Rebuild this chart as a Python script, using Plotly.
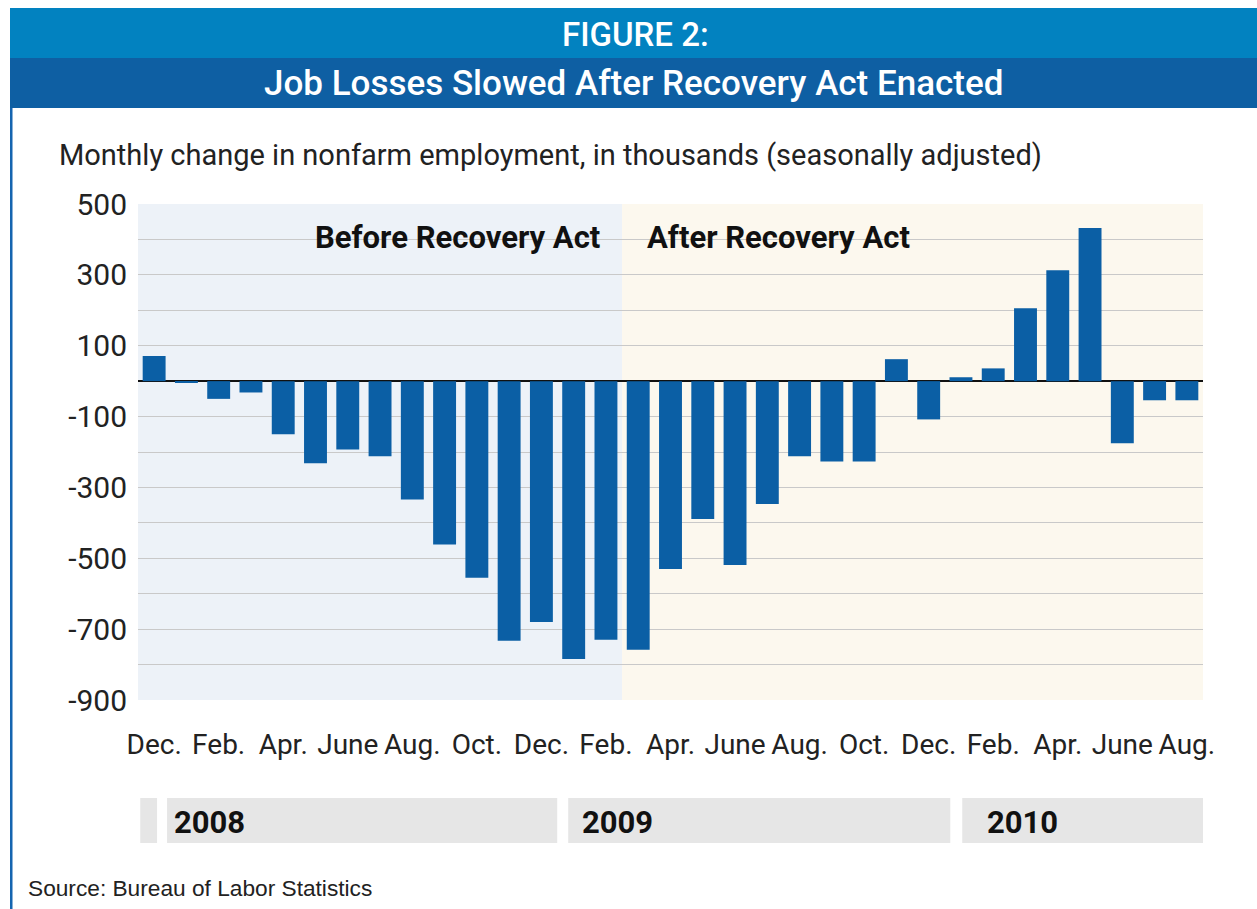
import plotly.graph_objects as go

# Monthly change in nonfarm payrolls (thousands), Dec 2007 - Aug 2010
months = ["Dec 2007", "Jan 2008", "Feb 2008", "Mar 2008", "Apr 2008", "May 2008",
          "Jun 2008", "Jul 2008", "Aug 2008", "Sep 2008", "Oct 2008", "Nov 2008",
          "Dec 2008", "Jan 2009", "Feb 2009", "Mar 2009", "Apr 2009", "May 2009",
          "Jun 2009", "Jul 2009", "Aug 2009", "Sep 2009", "Oct 2009", "Nov 2009",
          "Dec 2009", "Jan 2010", "Feb 2010", "Mar 2010", "Apr 2010", "May 2010",
          "Jun 2010", "Jul 2010", "Aug 2010"]
job_change = [71, -5, -50, -32, -150, -232, -193, -212, -334, -461, -555, -733,
              -680, -784, -730, -758, -530, -389, -519, -347, -212, -227, -227, 62,
              -108, 11, 36, 206, 313, 432, -175, -54, -54]
tick_labels = ["Dec.", "Feb.", "Apr.", "June", "Aug.", "Oct.", "Dec.", "Feb.", "Apr.",
               "June", "Aug.", "Oct.", "Dec.", "Feb.", "Apr.", "June", "Aug."]
y_labels = ["-900", "-700", "-500", "-300", "-100", "100", "300", "500"]
years = ["2008", "2009", "2010"]
act_month = "Mar 2009"

W, H = 1257, 909
L, R, T, B = 138, 1203, 204, 700

def xp(px):
    return (px - L) / (R - L)

def yp(py):
    return (B - py) / (B - T)

FONT = "Roboto, Arial, sans-serif"
BAR = "#0b5fa5"
split = months.index(act_month) - 0.5
n = len(months)

fig = go.Figure(go.Bar(
    x=list(range(n)), y=job_change, marker=dict(color=BAR, line=dict(width=0)),
    hoverinfo="skip", showlegend=False,
))

shapes = [
    # shaded periods
    dict(type="rect", xref="x", yref="y", x0=-0.5, x1=split, y0=-900, y1=500,
         fillcolor="#edf2f8", line=dict(width=0), layer="below"),
    dict(type="rect", xref="x", yref="y", x0=split, x1=n - 0.5, y0=-900, y1=500,
         fillcolor="#fcf8ee", line=dict(width=0), layer="below"),
    # header bands
    dict(type="rect", xref="paper", yref="paper", x0=xp(10), x1=xp(1262), y0=yp(58), y1=yp(8),
         fillcolor="#0282c0", line=dict(width=0)),
    dict(type="rect", xref="paper", yref="paper", x0=xp(10), x1=xp(1262), y0=yp(108), y1=yp(58),
         fillcolor="#0e5fa3", line=dict(width=0)),
    # left frame line
    dict(type="rect", xref="paper", yref="paper", x0=xp(10), x1=xp(12.5), y0=yp(912), y1=yp(108),
         fillcolor="#1565b0", line=dict(width=0)),
]

# year bands under the month axis
year_bands = [(-0.43, 0.09), (0.40, 12.49), (12.83, 24.67), (25.04, 32.57)]
for x0, x1 in year_bands:
    shapes.append(dict(type="rect", xref="x", yref="paper", x0=x0, x1=x1,
                       y0=yp(843), y1=yp(798), fillcolor="#e6e6e6", line=dict(width=0)))

annotations = [
    dict(text="FIGURE 2:", x=xp(635), y=yp(35), xref="paper", yref="paper",
         showarrow=False, xanchor="center", yanchor="middle",
         font=dict(family=FONT, size=33, color="white", weight=500)),
    dict(text="Job Losses Slowed After Recovery Act Enacted", x=xp(633), y=yp(83),
         xref="paper", yref="paper", showarrow=False, xanchor="center", yanchor="middle",
         font=dict(family=FONT, size=35, color="white", weight=500)),
    dict(text="Monthly change in nonfarm employment, in thousands (seasonally adjusted)",
         x=xp(57), y=yp(155), xref="paper", yref="paper", showarrow=False,
         xanchor="left", yanchor="middle", font=dict(family=FONT, size=29, color="#222222")),
    dict(text="<b>Before Recovery Act</b>", x=xp(313), y=yp(237), xref="paper", yref="paper",
         showarrow=False, xanchor="left", yanchor="middle",
         font=dict(family=FONT, size=31, color="#111111")),
    dict(text="<b>After Recovery Act</b>", x=xp(645), y=yp(237), xref="paper", yref="paper",
         showarrow=False, xanchor="left", yanchor="middle",
         font=dict(family=FONT, size=31, color="#111111")),
    dict(text="Source: Bureau of Labor Statistics", x=xp(26), y=yp(888), xref="paper",
         yref="paper", showarrow=False, xanchor="left", yanchor="middle",
         font=dict(family="Liberation Sans, Arial, sans-serif", size=22.7, color="#222222")),
]
year_x = [172, 580, 985]
for label, px in zip(years, year_x):
    annotations.append(dict(text="<b>" + label + "</b>", x=xp(px), y=yp(822), xref="paper",
                            yref="paper", showarrow=False, xanchor="left", yanchor="middle",
                            font=dict(family=FONT, size=31, color="#111111")))

fig.update_layout(
    width=W, height=H,
    margin=dict(l=L, r=W - R, t=T, b=H - B),
    paper_bgcolor="white", plot_bgcolor="rgba(0,0,0,0)",
    bargap=0.29,
    shapes=shapes, annotations=annotations,
    xaxis=dict(range=[-0.5, n - 0.5], tickmode="array",
               tickvals=list(range(0, n, 2)), ticktext=tick_labels, tickangle=0,
               showgrid=False, zeroline=False, showline=False, ticks="",
               tickfont=dict(family=FONT, size=28, color="#222222"),
               ticklabelstandoff=25, fixedrange=True),
    yaxis=dict(range=[-900, 500], tickmode="array",
               tickvals=list(range(-900, 600, 100)),
               ticktext=[(str(v) if str(v) in y_labels else "") for v in range(-900, 600, 100)],
               showgrid=True, gridcolor="#c9c9c9", gridwidth=1.2,
               zeroline=True, zerolinecolor="#111111", zerolinewidth=1.6,
               showline=False, ticks="",
               tickfont=dict(family=FONT, size=30, color="#222222"),
               ticklabelstandoff=10, fixedrange=True),
)

fig.write_html("out.html")
